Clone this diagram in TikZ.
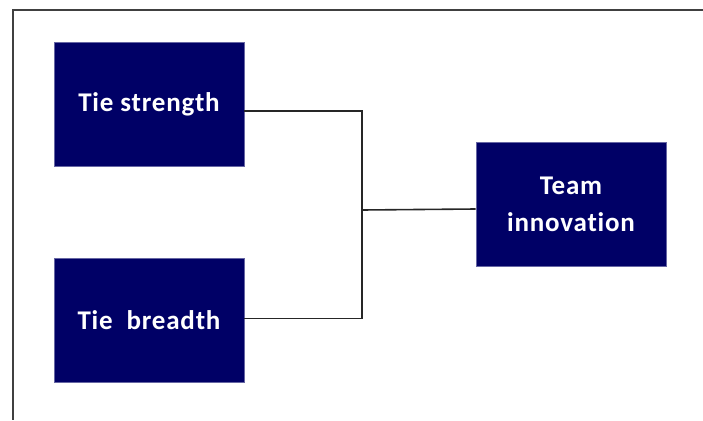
\documentclass[tikz,border=0pt]{standalone}
\usepackage{fontspec}
\setmainfont{Carlito}[Ligatures={NoCommon,NoContextual}, LetterSpace=3]
\usepackage{xcolor}
\usepackage{tikz}
\usetikzlibrary{positioning, calc}

\definecolor{boxnavy}{RGB}{0,0,102}

\begin{document}
\begin{tikzpicture}[x=1pt, y=-1pt,
  factor/.style={rectangle, fill=boxnavy, draw=boxnavy!60, line width=0.6pt,
    minimum width=190pt, minimum height=124pt, inner sep=0pt,
    text=white, font=\fontsize{27}{37}\selectfont\bfseries, align=center},
  link/.style={draw=black!85, line width=1.6pt}]
\useasboundingbox (0,0) rectangle (703,420);
% outer frame, running off the right and bottom edges
\begin{scope}
  \clip (0,0) rectangle (703,420);
  \draw[draw=black!75, line width=2pt] (703,10) -- (13,10) -- (13,420);
\end{scope}

\node[factor] (strength) at (149,104) {Tie strength};
\node[factor, below=92pt of strength] (breadth) {Tie\ \ breadth};
\node[factor] (innovation) at (571,204) {Team\\innovation};

% both ties meet at one joint, then run to the outcome
\coordinate (joint) at (362,210);
\draw[link] ([yshift=-7pt]strength.east) -| (joint);
\draw[link] ([yshift=2pt]breadth.east) -| (joint);
\draw[link] (joint) -- ([yshift=-5pt]innovation.west);
\end{tikzpicture}
\end{document}
